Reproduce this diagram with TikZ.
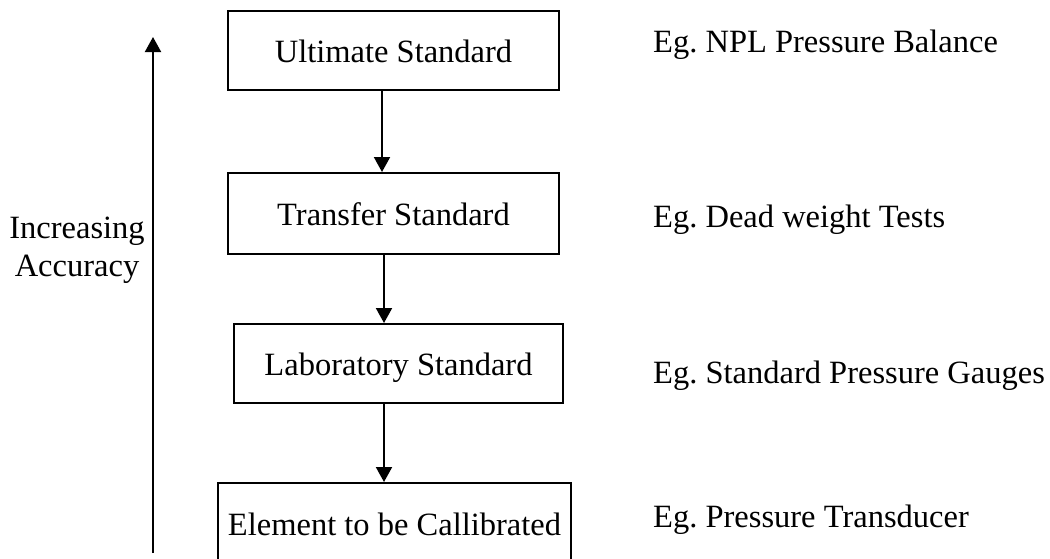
\documentclass[tikz,border=0pt]{standalone}
\usepackage{fontspec}
\setmainfont{Liberation Serif}
\usetikzlibrary{arrows.meta}
\frenchspacing
\begin{document}
\begin{tikzpicture}[x=1pt,y=-1pt,
  bigtext/.style={font=\fontsize{32.5}{38}\selectfont},
  stdbox/.style={bigtext, draw, line width=2pt, inner sep=0pt,
    text height=26pt, text depth=2pt},
  example/.style={bigtext, inner sep=0pt, anchor=base west},
  flow/.style={line width=2pt, -{Triangle[length=15pt,width=16pt]}}]
\useasboundingbox (0,0) rectangle (1050,558);

% hierarchy of standards
\node[stdbox, minimum width=331pt, minimum height=79pt] (ult) at (393.5,50.5) {Ultimate Standard};
\node[stdbox, minimum width=331pt, minimum height=81pt] (tra) at (393.5,213.5) {Transfer Standard};
\node[stdbox, minimum width=329pt, minimum height=79pt] (lab) at (398.5,363.5) {Laboratory Standard};
\node[stdbox, minimum width=353pt, minimum height=80pt] (ele) at (394.5,523) {Element to be Callibrated};

% calibration chain
\draw[flow] (ult.south -| 382,0) -- (tra.north -| 382,0);
\draw[flow] (tra.south -| 384,0) -- (lab.north -| 384,0);
\draw[flow] (lab.south -| 384,0) -- (ele.north -| 384,0);

% accuracy axis
\coordinate (acclow) at (153,553);
\coordinate (acchigh) at (153,37);
\draw[flow] (acclow) -- (acchigh);
\node[bigtext, align=center, inner sep=0pt] (acc) at (77,250) {Increasing\\Accuracy};

% examples
\node[example] (exult) at (653,52) {Eg. NPL Pressure Balance};
\node[example] (extra) at (653,227) {Eg. Dead weight Tests};
\node[example] (exlab) at (653,383) {Eg. Standard Pressure Gauges};
\node[example] (exele) at (653,527) {Eg. Pressure Transducer};
\end{tikzpicture}
\end{document}
